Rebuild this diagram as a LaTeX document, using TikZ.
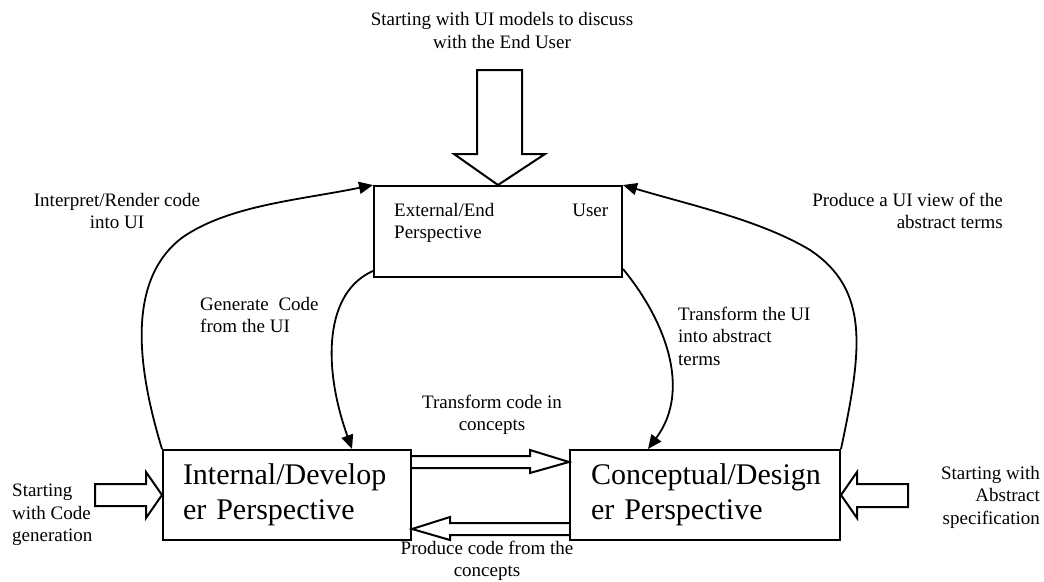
\documentclass[tikz,border=0pt]{standalone}
\usepackage{fontspec}
\setmainfont{Liberation Serif}
\usetikzlibrary{arrows.meta,calc}
\begin{document}
\begin{tikzpicture}[x=1pt,y=-1pt,
  box/.style={draw,line width=2pt,inner sep=0pt},
  lbl/.style={font=\fontsize{19}{22.5}\selectfont,inner sep=0pt},
  big/.style={font=\fontsize{30}{35}\selectfont},
  conn/.style={line width=1.8pt,-{Triangle[length=14pt,width=12pt]}},
  blockarrow/.style={draw,line width=2pt,line join=miter}]
\useasboundingbox (0,0) rectangle (1044,581);

% boxes
\node[box,minimum width=248pt,minimum height=91pt] (ext) at (498,231.5) {};
\node[box,big,minimum width=248pt,minimum height=90pt,text width=208pt,align=left] (int) at (287,495) {Internal/Develop\\er Perspective};
\node[box,big,minimum width=270pt,minimum height=90pt,text width=228pt,align=left] (con) at (705,495) {Conceptual/Design\\er Perspective};

% labels
\node[lbl,anchor=west,text width=214pt,align=left] (extlbl) at (394,223) {External/End\hfill User\\Perspective};
\node[lbl,align=center] (toplbl) at (502,30.5) {Starting with UI models to discuss\\with the End User};
\node[lbl,align=center] (interp) at (117,211) {Interpret/Render code\\into UI};
\node[lbl,align=right,anchor=east] (produi) at (1003,211) {Produce a UI view of the\\abstract terms};
\node[lbl,align=left,anchor=west] (gen) at (200,315) {Generate\hspace{5pt} Code\\from the UI};
\node[lbl,align=left,anchor=west] (trui) at (678,336) {Transform the UI\\into abstract\\terms};
\node[lbl,align=center] (trcode) at (492,415) {Transform code in\\concepts};
\node[lbl,align=center] (prodcode) at (487,561) {Produce code from the\\concepts};
\node[lbl,align=left,anchor=west] (startcode) at (12,515) {Starting\\with Code\\generation};
\node[lbl,align=right,anchor=east] (startabs) at (1040,497) {Starting with\\Abstract\\specification};

% block arrows
\draw[blockarrow] (477,70) -- (522,70) -- (522,154) -- (545,154) -- (ext.north) -- (454,154) -- (477,154) -- cycle;
\draw[blockarrow] (95,484) -- (146,484) -- (146,472) -- (int.west) -- (146,518) -- (146,506) -- (95,506) -- cycle;
\draw[blockarrow] (908,484) -- (857,484) -- (857,472) -- (con.east) -- (857,518) -- (857,507) -- (908,507) -- cycle;
\draw[blockarrow] (int.east |- 0,456) -- (530,456) -- (530,450) -- (con.west |- 0,462) -- (530,473) -- (530,468) -- (int.east |- 0,468);
\draw[blockarrow] (con.west |- 0,523) -- (450,523) -- (450,517) -- (int.east |- 0,529) -- (450,540) -- (450,535) -- (con.west |- 0,535);

% curved connectors
\draw[conn] (int.north west) .. controls (138,370) and (125,280) .. (183,237) .. controls (230,205) and (300,200) .. (ext.north west);
\draw[conn] (con.north east) .. controls (862,350) and (870,290) .. (810,250) .. controls (760,220) and (690,205) .. (ext.north east);
\draw[conn] ($(ext.south west)+(0,-7)$) .. controls (325,292) and (322,365) .. (352,0 |- int.north);
\draw[conn] ($(ext.south east)+(0,-9)$) .. controls (665,320) and (692,390) .. (648,0 |- con.north);
\end{tikzpicture}
\end{document}
